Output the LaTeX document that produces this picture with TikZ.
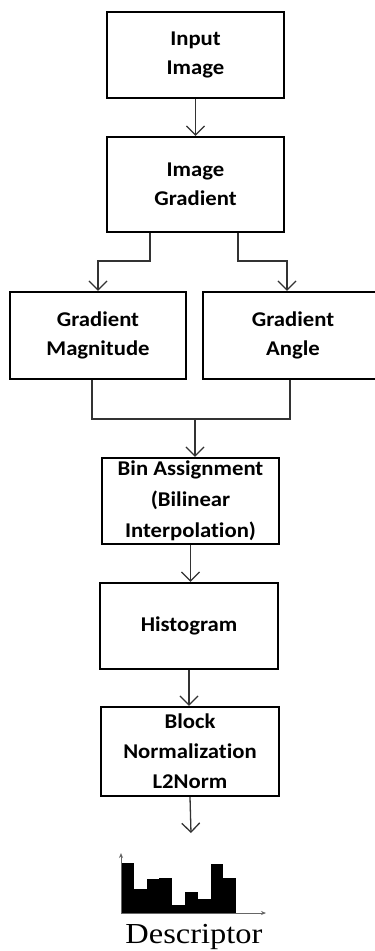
\documentclass[tikz,border=0pt]{standalone}
\usepackage{fontspec}
\setmainfont{Carlito}[FakeStretch=1.08, Ligatures=NoCommon]
\newfontfamily\descfont{Liberation Serif}[FakeStretch=1.12]
\usetikzlibrary{arrows.meta}

\begin{document}
\begin{tikzpicture}[x=1pt, y=1pt]
  \useasboundingbox[fill=white] (0,0) rectangle (375,-951);
  \begin{scope}[every node/.style={rectangle, draw=black, line width=2.2pt, minimum width=177pt,
                                   minimum height=86pt, inner sep=0pt, align=center,
                                   font=\fontsize{21}{29}\selectfont\bfseries}]
    \node (input) at (195.5,-55) {Input\\Image};
    \node[minimum height=95pt] (grad) at (195.5,-184.5) {Image\\Gradient};
    \node[minimum width=176pt, minimum height=87pt] (mag) at (98,-335.5) {Gradient\\Magnitude};
    \node[minimum width=180pt, minimum height=87pt] (ang) at (293,-335.5) {Gradient\\Angle};
    \node[font=\fontsize{21}{31}\selectfont\bfseries] (bin) at (190.5,-501) {Bin Assignment\\(Bilinear\\Interpolation)};
    \node[minimum width=178pt] (hist) at (189,-626) {Histogram};
    \node[minimum width=178pt, minimum height=89pt, font=\fontsize{21}{30}\selectfont\bfseries] (block) at (190,-751.5) {Block\\Normalization\\L2Norm};
  \end{scope}

  \coordinate (join) at (195,-419);
  \coordinate (out) at (191,-833);

  \begin{scope}[>={Straight Barb[length=9pt, width=18pt]},
                every edge/.style={draw=black!80, line width=1.3pt}]
    \path[->] (input) edge (grad);
    \draw[->, draw=black!80, line width=1.3pt] ([xshift=-45.5pt]grad.south) -- ++(0,-28) -| (mag.north);
    \draw[->, draw=black!80, line width=1.3pt] ([xshift=42.5pt]grad.south) -- ++(0,-28) -| ([xshift=-6pt]ang.north);
    \draw[draw=black!80, line width=1.3pt] ([xshift=-6pt]mag.south) |- (join) -| ([xshift=-3pt]ang.south);
    \path[->] (join) edge (join |- bin.north);
    \path[->] (bin.south) edge (bin.south |- hist.north);
    \path[->] (hist.south) edge (hist.south |- block.north);
    \path[->] (block.south) edge (out);
  \end{scope}

  % descriptor histogram
  \begin{scope}[shift={(121,-913)}]
    \foreach \h [count=\i from 0] in {50,24,34,35,8,21,14,49,35}
      \fill[black] (12.8*\i,0) rectangle (12.8*\i+12.8,\h);
    \draw[-{Stealth[length=5pt, width=4pt]}, draw=black!60, line width=0.9pt] (0,0) -- (0,60);
    \draw[-{Stealth[length=5pt, width=4pt]}, draw=black!60, line width=0.9pt] (0,0) -- (145,0);
  \end{scope}
  \node[anchor=base, inner sep=0pt, font=\descfont\fontsize{29}{31}\selectfont] (desc) at (194,-943) {Descriptor};
\end{tikzpicture}
\end{document}
